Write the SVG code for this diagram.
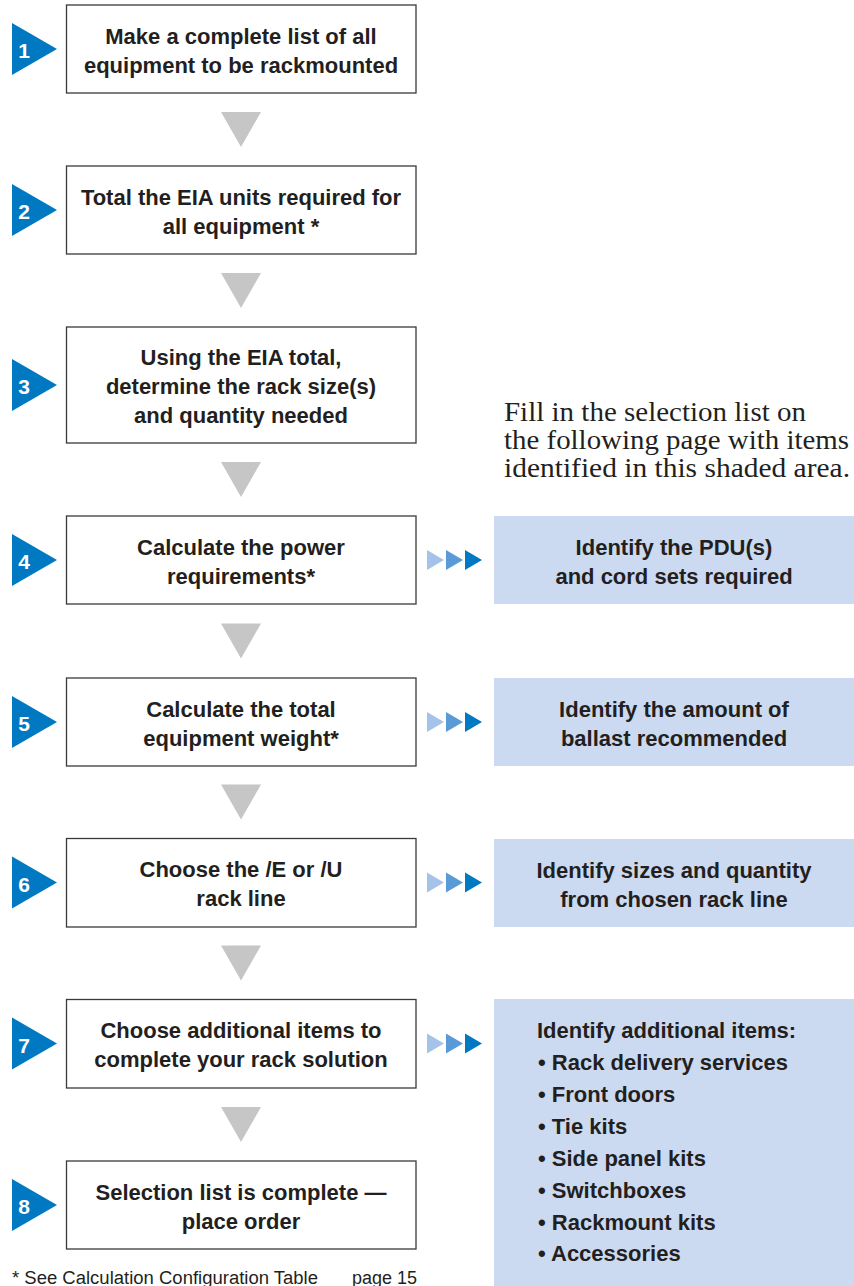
<svg xmlns="http://www.w3.org/2000/svg" width="854" height="1286" viewBox="0 0 854 1286">
<style>
.box{fill:#fff;stroke:#3a3a3a;stroke-width:1.3}
.shade{fill:#cbdaf0}
.badge{fill:#0079c2}
.num{font-family:"Liberation Sans",Arial,sans-serif;font-weight:bold;font-size:21px;fill:#fff;text-anchor:middle}
.t{font-family:"Liberation Sans",Arial,sans-serif;font-weight:bold;font-size:22px;fill:#231f20;text-anchor:middle}
.tl{font-family:"Liberation Sans",Arial,sans-serif;font-weight:bold;font-size:22px;fill:#231f20}
.serif{font-family:"Liberation Serif","Times New Roman",serif;font-size:28px;fill:#231f20}
.foot{font-family:"Liberation Sans",Arial,sans-serif;font-size:18px;fill:#231f20}
.down{fill:#c6c6c6}
.a1{fill:#a5c3e8}.a2{fill:#5a9ad6}.a3{fill:#0079c2}
</style>
<defs>
<g id="tri3">
<polygon class="a1" points="427,-10 444,0 427,10"/>
<polygon class="a2" points="446,-10 463,0 446,10"/>
<polygon class="a3" points="465,-10 482,0 465,10"/>
</g>
<polygon id="dn" class="down" points="-20,-17.5 20,-17.5 0,17.5"/>
</defs>

<g id="connectors">
<use href="#dn" x="241" y="129.5"/>
<use href="#dn" x="241" y="290.5"/>
<use href="#dn" x="241" y="479.5"/>
<use href="#dn" x="241" y="641"/>
<use href="#dn" x="241" y="802"/>
<use href="#dn" x="241" y="963"/>
<use href="#dn" x="241" y="1124.5"/>
<use href="#tri3" y="560"/>
<use href="#tri3" y="722"/>
<use href="#tri3" y="882.5"/>
<use href="#tri3" y="1043.5"/>
</g>

<g id="step1">
<rect class="box" x="66.5" y="5" width="349.5" height="88"/>
<polygon class="badge" points="12,23 57,49 12,75"/>
<text class="num" x="24" y="58">1</text>
<text class="t" x="241" y="43.5">Make a complete list of all</text>
<text class="t" x="241" y="72.5">equipment to be rackmounted</text>
</g>
<g id="step2">
<rect class="box" x="66.5" y="166" width="349.5" height="88"/>
<polygon class="badge" points="12,184 57,210 12,236"/>
<text class="num" x="24" y="219">2</text>
<text class="t" x="241" y="204.5">Total the EIA units required for</text>
<text class="t" x="241" y="233.5">all equipment *</text>
</g>
<g id="step3">
<rect class="box" x="66.5" y="327" width="349.5" height="116"/>
<polygon class="badge" points="12,359 57,385 12,411"/>
<text class="num" x="24" y="394">3</text>
<text class="t" x="241" y="365">Using the EIA total,</text>
<text class="t" x="241" y="394">determine the rack size(s)</text>
<text class="t" x="241" y="423">and quantity needed</text>
</g>
<g id="step4">
<rect class="box" x="66.5" y="516" width="349.5" height="88"/>
<polygon class="badge" points="12,534 57,560 12,586"/>
<text class="num" x="24" y="569">4</text>
<text class="t" x="241" y="554.5">Calculate the power</text>
<text class="t" x="241" y="583.5">requirements*</text>
</g>
<g id="step5">
<rect class="box" x="66.5" y="678" width="349.5" height="88"/>
<polygon class="badge" points="12,696 57,722 12,748"/>
<text class="num" x="24" y="731">5</text>
<text class="t" x="241" y="716.5">Calculate the total</text>
<text class="t" x="241" y="745.5">equipment weight*</text>
</g>
<g id="step6">
<rect class="box" x="66.5" y="838.5" width="349.5" height="88.5"/>
<polygon class="badge" points="12,856.5 57,882.5 12,908.5"/>
<text class="num" x="24" y="891.5">6</text>
<text class="t" x="241" y="877">Choose the /E or /U</text>
<text class="t" x="241" y="906">rack line</text>
</g>
<g id="step7">
<rect class="box" x="66.5" y="999.5" width="349.5" height="88.5"/>
<polygon class="badge" points="12,1017.5 57,1043.5 12,1069.5"/>
<text class="num" x="24" y="1052.5">7</text>
<text class="t" x="241" y="1038">Choose additional items to</text>
<text class="t" x="241" y="1067">complete your rack solution</text>
</g>
<g id="step8">
<rect class="box" x="66.5" y="1161" width="349.5" height="88"/>
<polygon class="badge" points="12,1179 57,1205 12,1231"/>
<text class="num" x="24" y="1214">8</text>
<text class="t" x="241" y="1199.5">Selection list is complete —</text>
<text class="t" x="241" y="1228.5">place order</text>
</g>

<g id="note">
<text class="serif" x="504" y="421" textLength="302" lengthAdjust="spacingAndGlyphs">Fill in the selection list on</text>
<text class="serif" x="504" y="449" textLength="345" lengthAdjust="spacingAndGlyphs">the following page with items</text>
<text class="serif" x="504" y="477" textLength="346" lengthAdjust="spacingAndGlyphs">identified in this shaded area.</text>
</g>

<g id="identify-pdu">
<rect class="shade" x="494" y="516" width="360" height="88"/>
<text class="t" x="674" y="555">Identify the PDU(s)</text>
<text class="t" x="674" y="584">and cord sets required</text>
</g>
<g id="identify-ballast">
<rect class="shade" x="494" y="678" width="360" height="88"/>
<text class="t" x="674" y="716.5">Identify the amount of</text>
<text class="t" x="674" y="745.5">ballast recommended</text>
</g>
<g id="identify-sizes">
<rect class="shade" x="494" y="839" width="360" height="88"/>
<text class="t" x="674" y="877.5">Identify sizes and quantity</text>
<text class="t" x="674" y="906.5">from chosen rack line</text>
</g>
<g id="identify-additional">
<rect class="shade" x="494" y="999" width="360" height="287"/>
<text class="tl" x="537" y="1038">Identify additional items:</text>
<text class="tl" x="538" y="1070">• Rack delivery services</text>
<text class="tl" x="538" y="1102">• Front doors</text>
<text class="tl" x="538" y="1134">• Tie kits</text>
<text class="tl" x="538" y="1166">• Side panel kits</text>
<text class="tl" x="538" y="1198">• Switchboxes</text>
<text class="tl" x="538" y="1230">• Rackmount kits</text>
<text class="tl" x="538" y="1261">• Accessories</text>
</g>

<g id="footnote">
<text class="foot" x="12" y="1284" textLength="306" lengthAdjust="spacingAndGlyphs">* See Calculation Configuration Table</text>
<text class="foot" x="352" y="1284">page 15</text>
</g>
</svg>
